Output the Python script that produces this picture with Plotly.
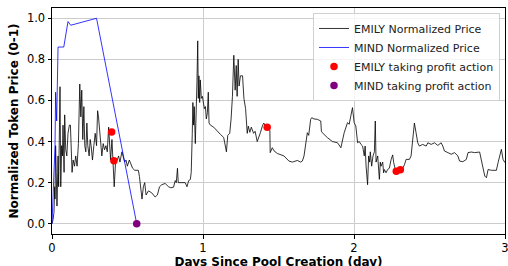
import plotly.graph_objects as go

# EMILY normalized price (days since pool creation, normalized price)
emily_days = [0, 0.007, 0.013, 0.018, 0.02, 0.024, 0.029, 0.033, 0.038, 0.04, 0.044, 0.049, 0.053, 0.058, 0.062, 0.064, 0.069, 0.073, 0.08, 0.084,
              0.091, 0.098, 0.106, 0.115, 0.122, 0.126, 0.133, 0.14, 0.149, 0.157, 0.166, 0.175, 0.184, 0.191, 0.197, 0.204, 0.211, 0.217, 0.224, 0.231,
              0.237, 0.246, 0.253, 0.259, 0.268, 0.277, 0.286, 0.295, 0.302, 0.308, 0.315, 0.322, 0.33, 0.339, 0.348, 0.357, 0.366, 0.375, 0.381, 0.388,
              0.397, 0.406, 0.412, 0.421, 0.432, 0.441, 0.45, 0.463, 0.472, 0.481, 0.49, 0.499, 0.512, 0.521, 0.534, 0.548, 0.561, 0.572, 0.579, 0.588,
              0.596, 0.605, 0.614, 0.623, 0.639, 0.661, 0.683, 0.698, 0.712, 0.727, 0.749, 0.772, 0.787, 0.805, 0.816, 0.823, 0.831, 0.836, 0.86, 0.882,
              0.894, 0.905, 0.916, 0.922, 0.929, 0.933, 0.938, 0.942, 0.949, 0.953, 0.96, 0.965, 0.969, 0.973, 0.978, 0.982, 0.989, 0.996, 1.002, 1.009,
              1.016, 1.022, 1.029, 1.035, 1.04, 1.049, 1.071, 1.093, 1.115, 1.137, 1.155, 1.164, 1.177, 1.186, 1.195, 1.204, 1.213, 1.22, 1.226, 1.233,
              1.239, 1.248, 1.262, 1.271, 1.282, 1.293, 1.30, 1.31, 1.32, 1.335, 1.345, 1.359, 1.37, 1.38, 1.395, 1.403, 1.415, 1.43, 1.443, 1.445,
              1.459, 1.47, 1.492, 1.536, 1.569, 1.592, 1.625, 1.647, 1.658, 1.669, 1.68, 1.691, 1.70, 1.713, 1.72, 1.735, 1.758, 1.78, 1.784, 1.79,
              1.824, 1.857, 1.891, 1.902, 1.913, 1.935, 1.946, 1.957, 1.968, 1.98, 1.99, 2.001, 2.012, 2.024, 2.035, 2.046, 2.057, 2.068, 2.074, 2.08,
              2.086, 2.09, 2.097, 2.104, 2.108, 2.117, 2.126, 2.135, 2.141, 2.146, 2.157, 2.163, 2.168, 2.174, 2.179, 2.19, 2.196, 2.201, 2.212, 2.223,
              2.234, 2.246, 2.256, 2.263, 2.272, 2.279, 2.29, 2.307, 2.323, 2.334, 2.345, 2.367, 2.378, 2.385, 2.394, 2.40, 2.411, 2.422, 2.433, 2.455,
              2.478, 2.489, 2.511, 2.533, 2.555, 2.577, 2.588, 2.599, 2.622, 2.644, 2.666, 2.688, 2.699, 2.721, 2.744, 2.755, 2.777, 2.799, 2.832, 2.843,
              2.854, 2.866, 2.877, 2.888, 2.91, 2.943, 2.954, 2.965, 2.976, 2.987, 3.0]
emily_price = [0, 0.02, 0.054, 0.18, 0.12, 0.38, 0.12, 0.086, 0.25, 0.33, 0.18, 0.39, 0.667, 0.18, 0.28, 0.38, 0.33, 0.48, 0.25, 0.53,
               0.36, 0.33, 0.44, 0.48, 0.48, 0.35, 0.25, 0.31, 0.28, 0.33, 0.28, 0.39, 0.68, 0.52, 0.65, 0.41, 0.57, 0.38, 0.35, 0.49,
               0.38, 0.33, 0.41, 0.38, 0.31, 0.38, 0.44, 0.38, 0.55, 0.52, 0.46, 0.38, 0.33, 0.39, 0.36, 0.38, 0.35, 0.47, 0.39, 0.31,
               0.41, 0.30, 0.18, 0.30, 0.31, 0.33, 0.30, 0.35, 0.33, 0.30, 0.31, 0.28, 0.31, 0.29, 0.27, 0.26, 0.26, 0.26, 0.23, 0.15,
               0.12, 0.18, 0.20, 0.14, 0.16, 0.15, 0.13, 0.14, 0.18, 0.19, 0.196, 0.18, 0.175, 0.178, 0.21, 0.20, 0.27, 0.20, 0.20, 0.20,
               0.18, 0.21, 0.215, 0.25, 0.44, 0.59, 0.48, 0.57, 0.39, 0.57, 0.69, 0.89, 0.61, 0.72, 0.59, 0.70, 0.61, 0.62, 0.59, 0.56,
               0.57, 0.51, 0.54, 0.64, 0.49, 0.48, 0.47, 0.45, 0.435, 0.42, 0.35, 0.43, 0.44, 0.51, 0.62, 0.82, 0.65, 0.77, 0.62, 0.80,
               0.67, 0.72, 0.72, 0.61, 0.56, 0.44, 0.475, 0.445, 0.47, 0.44, 0.45, 0.40, 0.42, 0.443, 0.48, 0.49, 0.47, 0.46, 0.455, 0.346,
               0.37, 0.355, 0.342, 0.33, 0.305, 0.30, 0.308, 0.30, 0.305, 0.33, 0.378, 0.443, 0.43, 0.508, 0.516, 0.51, 0.508, 0.50, 0.45, 0.443,
               0.419, 0.40, 0.394, 0.378, 0.37, 0.443, 0.468, 0.492, 0.484, 0.54, 0.565, 0.492, 0.476, 0.394, 0.40, 0.386, 0.378, 0.33, 0.378, 0.28,
               0.216, 0.19, 0.33, 0.30, 0.35, 0.28, 0.33, 0.35, 0.50, 0.30, 0.33, 0.28, 0.216, 0.30, 0.28, 0.30, 0.248, 0.264, 0.248, 0.264,
               0.27, 0.313, 0.335, 0.297, 0.27, 0.248, 0.264, 0.27, 0.27, 0.287, 0.313, 0.313, 0.33, 0.378, 0.443, 0.49, 0.443, 0.394, 0.378, 0.386,
               0.378, 0.394, 0.386, 0.394, 0.381, 0.394, 0.378, 0.354, 0.346, 0.338, 0.346, 0.33, 0.305, 0.302, 0.313, 0.346, 0.349, 0.346, 0.349, 0.313,
               0.28, 0.232, 0.224, 0.264, 0.26, 0.26, 0.297, 0.33, 0.362, 0.313, 0.297]

# MIND normalized price
mind_days = [0, 0.01, 0.014, 0.02, 0.024, 0.026, 0.028, 0.031, 0.04, 0.078, 0.106, 0.124, 0.295, 0.561]
mind_price = [0, 0.20, 0.30, 0.38, 0.64, 0.52, 0.64, 0.50, 0.86, 0.86, 0.984, 0.966, 1.0, 0.0]

# Profit-taking actions
emily_action_days = [0.395, 0.41, 1.425, 2.28, 2.307]
emily_action_price = [0.446, 0.307, 0.47, 0.255, 0.263]
mind_action_days = [0.561]
mind_action_price = [0.0]

y_ticks = [0.0, 0.2, 0.4, 0.6, 0.8, 1.0]
x_ticks = [0, 1, 2, 3]

FONT = "DejaVu Sans"

fig = go.Figure()
fig.add_trace(go.Scatter(x=emily_days, y=emily_price, mode="lines", name="EMILY Normalized Price",
                         line=dict(color="black", width=0.8)))
fig.add_trace(go.Scatter(x=mind_days, y=mind_price, mode="lines", name="MIND Normalized Price",
                         line=dict(color="blue", width=0.8)))
fig.add_trace(go.Scatter(x=emily_action_days, y=emily_action_price, mode="markers", name="EMILY taking profit action",
                         marker=dict(color="red", size=7.5)))
fig.add_trace(go.Scatter(x=mind_action_days, y=mind_action_price, mode="markers", name="MIND taking profit action",
                         marker=dict(color="purple", size=7.5)))

axis_common = dict(showline=True, linecolor="black", linewidth=1, mirror=True,
                   ticks="outside", ticklen=3.5, tickcolor="black", tickwidth=1,
                   showgrid=True, gridcolor="#cccccc", gridwidth=1, zeroline=False,
                   automargin=False, ticklabeloverflow="allow",
                   tickfont=dict(family=FONT, size=11.5, color="black"))

fig.update_xaxes(range=[0, 3], tickvals=x_ticks, ticktext=[str(v) for v in x_ticks],
                 title=dict(text="<b>Days Since Pool Creation (day)</b>", font=dict(family=FONT, size=12, color="black"), standoff=6),
                 **axis_common)
fig.update_yaxes(range=[-0.05, 1.05], tickvals=y_ticks, ticktext=[f"{v:.1f}" for v in y_ticks],
                 title=dict(text="<b>Normalized Token Price (0-1)</b>", font=dict(family=FONT, size=12, color="black"), standoff=5),
                 **axis_common)

fig.update_layout(width=512, height=269, margin=dict(l=52, r=7, t=8, b=35),
                  plot_bgcolor="white", paper_bgcolor="white",
                  font=dict(family=FONT, size=11.5, color="black"),
                  legend=dict(x=0.989, y=0.978, xanchor="right", yanchor="top",
                              bgcolor="rgba(255,255,255,0.8)", bordercolor="#d0d0d0", borderwidth=1,
                              font=dict(family=FONT, size=11, color="#222"), tracegroupgap=0),
                  showlegend=True)

# remove the default page margin so the figure sits at the window's top-left corner
fig.write_html("out.html", config={"displayModeBar": False},
               post_script="document.body.style.margin='0';document.documentElement.style.overflow='hidden';")
